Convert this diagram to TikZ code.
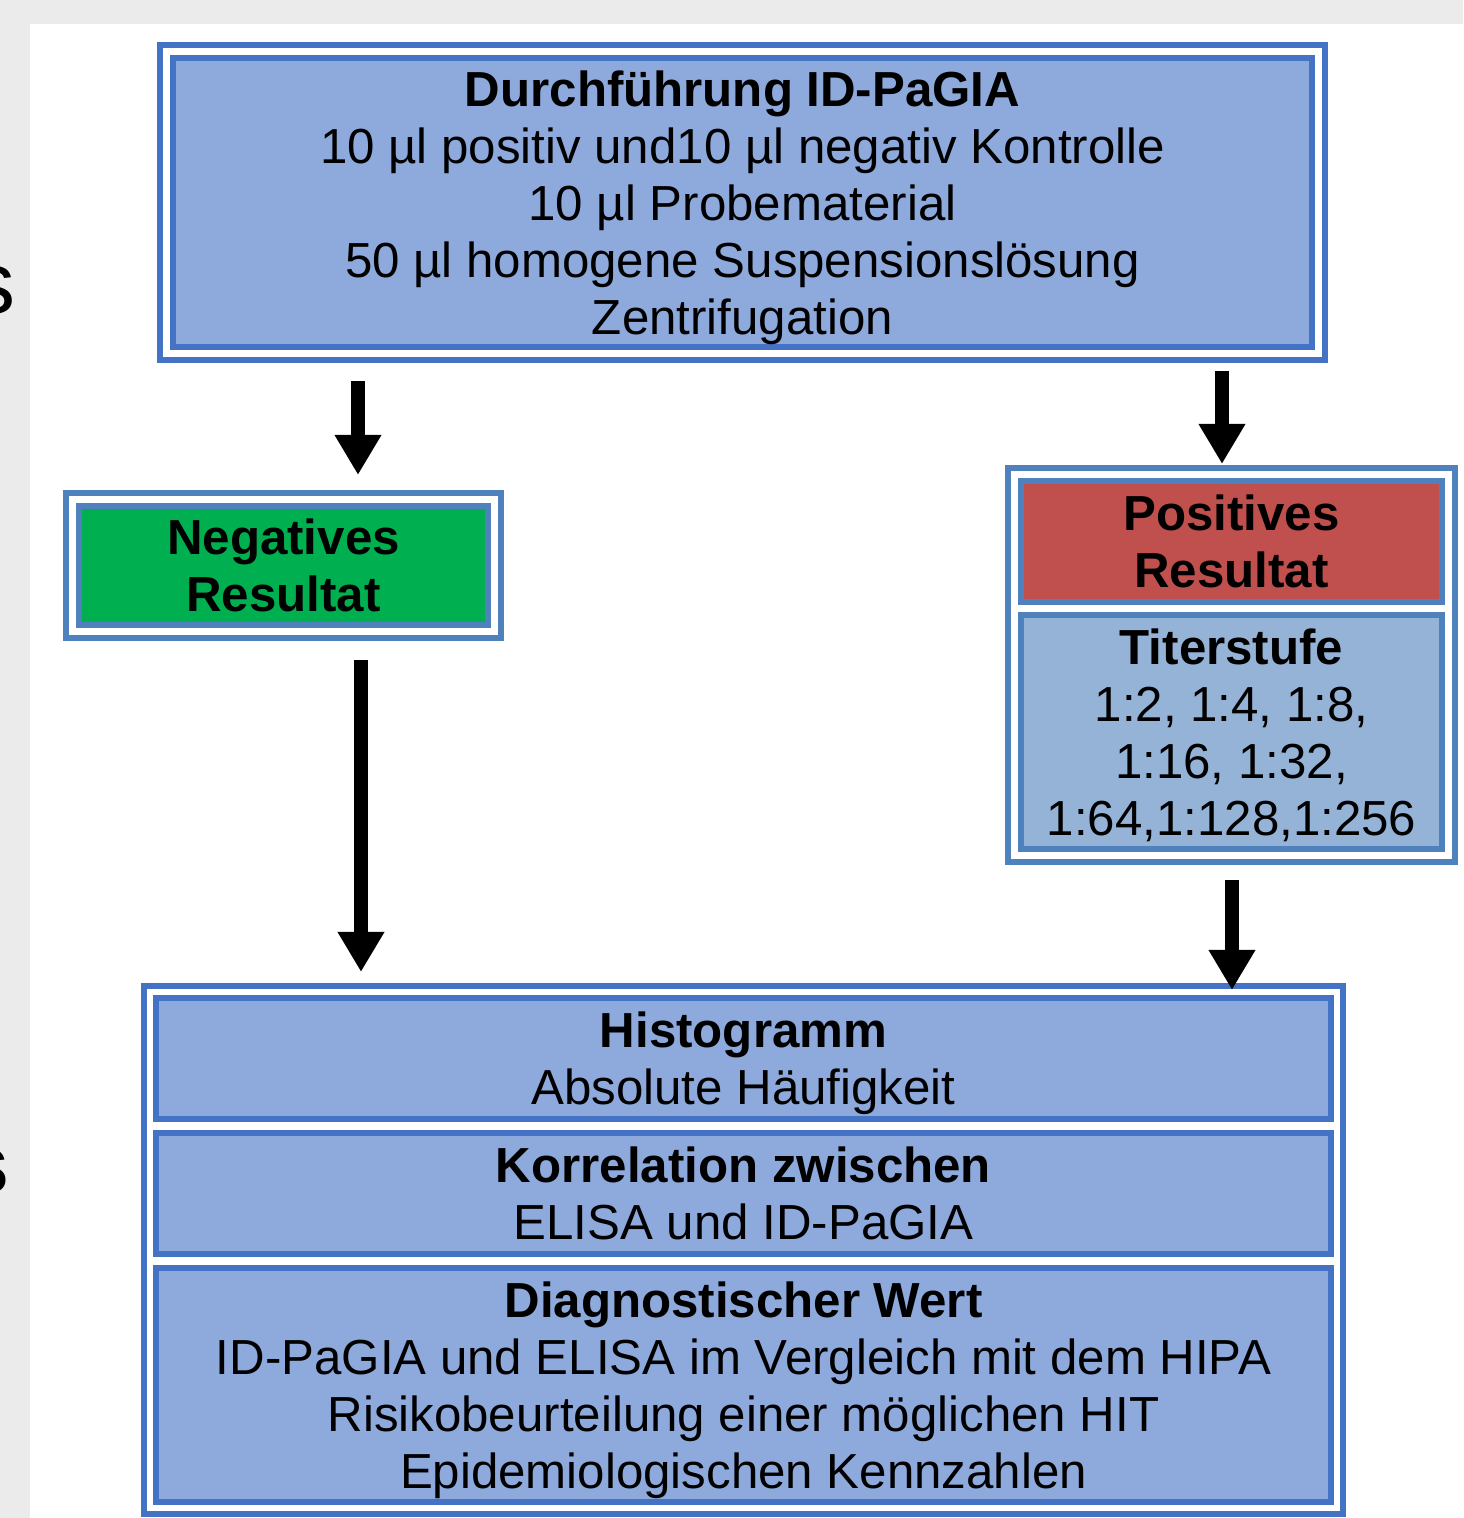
\documentclass[tikz,border=0pt]{standalone}
\usepackage{fontspec}
\setmainfont{Liberation Sans}
\usetikzlibrary{arrows.meta,fit}

\definecolor{blaurand}{HTML}{4472C4}
\definecolor{blaufuell}{HTML}{8EA9DB}
\definecolor{blaurandB}{HTML}{4F81BD}
\definecolor{blaufuellB}{HTML}{95B3D7}
\definecolor{gruen}{HTML}{00B050}
\definecolor{rot}{HTML}{C0504D}
\definecolor{grau}{HTML}{EBEBEB}

\tikzset{
  kasten/.style={draw=blaurand, fill=blaufuell, line width=0.06cm, align=center,
    inner sep=0pt, font=\fontsize{14pt}{16.2pt}\selectfont, text depth=-0.7pt},
  rahmen/.style={draw=blaurand, line width=0.06cm, inner sep=0.1cm},
  pfeil/.style={line width=0.14cm, -{Triangle[width=0.44cm,length=0.40cm]}},
}

\begin{document}
\begin{tikzpicture}[x=0.01cm, y=-0.01cm]

 \useasboundingbox (0,0) rectangle (1463,1518);
 \fill[grau] (0,0) rectangle (1463,1518);
 \fill[white] (30,24) rectangle (1463,1518);

 % Reste vom Nachbartext am linken Rand
 \begin{scope}
  \clip (0,0) rectangle (30,1518);
  \node[anchor=east, inner sep=0pt, font=\fontsize{25pt}{30pt}\selectfont] (rest1) at (16,290) {s};
  \node[anchor=east, inner sep=0pt, font=\fontsize{24pt}{29pt}\selectfont\bfseries] (rest2) at (10,1171) {s};
 \end{scope}

 % Durchfuehrung
 \node[kasten, minimum width=11.39cm, minimum height=2.89cm] (durch) at (742.5,202.5)
  {\textbf{Durchführung ID-PaGIA}\\10 µl positiv und10 µl negativ Kontrolle\\10 µl Probematerial\\50 µl homogene Suspensionslösung\\Zentrifugation};
 \node[rahmen, fit=(durch)] (durchrahmen) {};

 % Negativ
 \node[kasten, draw=blaurandB, fill=gruen, minimum width=4.09cm, minimum height=1.19cm] (neg) at (283.5,565.5)
  {\textbf{Negatives}\\\textbf{Resultat}};
 \node[rahmen, draw=blaurandB, fit=(neg)] (negrahmen) {};

 % Positiv
 \node[kasten, draw=blaurandB, fill=rot, minimum width=4.21cm, minimum height=1.21cm] (pos) at (1231.5,541.5)
  {\textbf{Positives}\\\textbf{Resultat}};
 \node[kasten, draw=blaurandB, fill=blaufuellB, minimum width=4.21cm, minimum height=2.34cm] (titer) at (1231.5,732)
  {\textbf{Titerstufe}\\1:2, 1:4, 1:8,\\1:16, 1:32,\\1:64,1:128,1:256};
 \node[rahmen, draw=blaurandB, fit=(pos)(titer)] (posrahmen) {};

 % Auswertung
 \node[kasten, minimum width=11.75cm, minimum height=1.21cm] (histo) at (743.5,1058.5)
  {\textbf{Histogramm}\\Absolute Häufigkeit};
 \node[kasten, minimum width=11.75cm, minimum height=1.21cm] (korr) at (743.5,1193.5)
  {\textbf{Korrelation zwischen}\\ELISA und ID-PaGIA};
 \node[kasten, minimum width=11.75cm, minimum height=2.34cm] (diag) at (743.5,1385)
  {\textbf{Diagnostischer Wert}\\ID-PaGIA und ELISA im Vergleich mit dem HIPA\\Risikobeurteilung einer möglichen HIT\\Epidemiologischen Kennzahlen};
 \node[rahmen, inner sep=0.09cm, fit=(histo)(korr)(diag)] (auswrahmen) {};

 % Pfeile
 \coordinate (p1) at (358,0);
 \coordinate (p2) at (1222,0);
 \coordinate (p3) at (361,0);
 \coordinate (p4) at (1232,0);

 \draw[pfeil, shorten <=0.18cm, shorten >=0.15cm] (durchrahmen.south -| p1) -- (negrahmen.north -| p1);
 \draw[pfeil, shorten <=0.08cm, shorten >=0.01cm] (durchrahmen.south -| p2) -- (posrahmen.north -| p2);
 \draw[pfeil, shorten <=0.19cm, shorten >=0.11cm] (negrahmen.south -| p3) -- (auswrahmen.north -| p3);
 \draw[pfeil, shorten <=0.15cm, shorten >=-0.07cm] (posrahmen.south -| p4) -- (auswrahmen.north -| p4);

\end{tikzpicture}
\end{document}
